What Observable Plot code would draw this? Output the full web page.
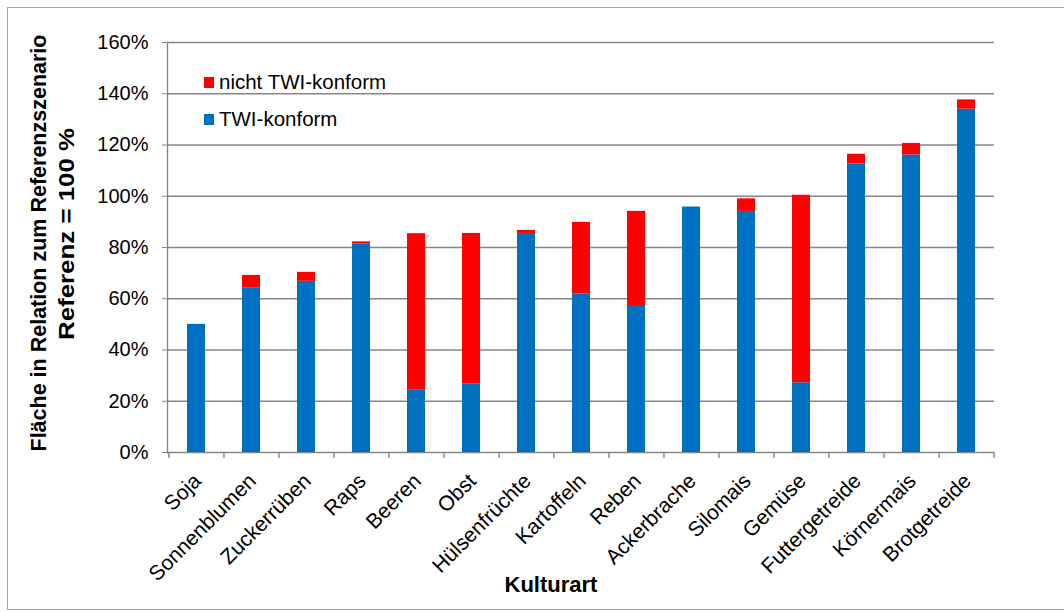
<!DOCTYPE html>
<html><head><meta charset="utf-8">
<script src="https://cdn.jsdelivr.net/npm/d3@7"></script>
<script src="https://cdn.jsdelivr.net/npm/@observablehq/plot@0.6"></script>
<style>
body{margin:0;background:#fff;font-family:"Liberation Sans",Arial,sans-serif;}
#wrap{position:relative;width:1064px;height:612px;overflow:hidden;}
#border{position:absolute;left:7px;top:7px;width:1100px;height:603px;border:1px solid #a6a6a6;box-sizing:border-box;}
#chart{position:absolute;left:0;top:0;}
</style></head><body>
<div id="wrap"><div id="border"></div><div id="chart"></div></div>
<script>
const categories = ["Soja","Sonnenblumen","Zuckerrüben","Raps","Beeren","Obst","Hülsenfrüchte","Kartoffeln","Reben","Ackerbrache","Silomais","Gemüse","Futtergetreide","Körnermais","Brotgetreide"];
const twiKonform   = [50.0, 64.3, 66.8, 81.3, 24.3, 26.7, 85.5, 61.8, 57.0, 95.8, 94.1, 27.2, 112.6, 116.1, 134.0];
const nichtKonform = [0.0, 4.8, 3.5, 0.9, 61.1, 58.8, 1.2, 28.0, 37.1, 0.0, 4.9, 73.2, 3.8, 4.5, 3.6];
const series = ["TWI-konform", "nicht TWI-konform"];
const seriesColors = ["#0070C0", "#FF0000"];
const yTicks = [0, 20, 40, 60, 80, 100, 120, 140, 160];
const yTitle = ["Fläche in Relation zum Referenzszenario", "Referenz = 100 %"];
const xTitle = "Kulturart";

const rows = [];
categories.forEach((c, i) => {
  rows.push({kultur: c, serie: series[0], wert: twiKonform[i]});
  rows.push({kultur: c, serie: series[1], wert: nichtKonform[i]});
});

const W = 1064, H = 612, mL = 167, mR = 70, mT = 42, mB = 160;
const step = (W - mL - mR) / categories.length;
const grid = "#868686";

const plot = Plot.plot({
  width: W, height: H,
  marginLeft: mL, marginRight: mR, marginTop: mT, marginBottom: mB,
  style: {fontFamily: "'Liberation Sans', Arial, sans-serif", fontSize: "20px", color: "#000", background: "transparent", overflow: "visible"},
  x: {domain: categories, paddingInner: 0.673, paddingOuter: 0.3365, label: null},
  y: {domain: [0, 160], label: null},
  color: {domain: series, range: seriesColors},
  marks: [
    Plot.gridY(yTicks, {stroke: grid, strokeOpacity: 1, strokeWidth: 1.4}),
    Plot.frame({anchor: "left", stroke: grid, strokeWidth: 1.4}),
    Plot.barY(rows, {x: "kultur", y: "wert", fill: "serie", order: series}),
    Plot.axisY(yTicks, {tickFormat: d => d + "%", tickSize: 5, tickPadding: 14, stroke: grid, fill: "#000", fontSize: 20, label: null}),
    Plot.axisX({tickSize: 0, tickRotate: -45, tickPadding: 25, dx: 1, fill: "#000", fontSize: 21, label: null}),
    Plot.ruleX(categories, {x: d => d, dx: -step / 2, y1: 0, y2: 0, insetBottom: -6, stroke: grid, strokeWidth: 1.4}),
    Plot.ruleX([categories[categories.length - 1]], {x: d => d, dx: step / 2, y1: 0, y2: 0, insetBottom: -6, stroke: grid, strokeWidth: 1.4})
  ]
});

const svg = d3.select(plot);
svg.append("text").attr("transform", "translate(46,243) rotate(-90)")
  .attr("text-anchor", "middle").attr("font-weight", "bold").attr("font-size", 21.5).attr("fill", "#000")
  .text(yTitle[0]);
svg.append("text").attr("transform", "translate(74,234) rotate(-90)")
  .attr("text-anchor", "middle").attr("font-weight", "bold").attr("font-size", 21.5).attr("fill", "#000")
  .attr("textLength", 212).attr("lengthAdjust", "spacingAndGlyphs")
  .text(yTitle[1]);
svg.append("text").attr("x", 551).attr("y", 592)
  .attr("text-anchor", "middle").attr("font-weight", "bold").attr("font-size", 22).attr("fill", "#000")
  .text(xTitle);

// legend (top entry = nicht TWI-konform)
const legendItems = [
  {name: series[1], color: seriesColors[1], y: 77, base: 89},
  {name: series[0], color: seriesColors[0], y: 114, base: 126}
];
legendItems.forEach(it => {
  svg.append("rect").attr("x", 204).attr("y", it.y).attr("width", 10).attr("height", 11).attr("fill", it.color);
  svg.append("text").attr("x", 219).attr("y", it.base).attr("text-anchor", "start")
    .attr("font-size", 20.5).attr("fill", "#000").text(it.name);
});

document.getElementById("chart").appendChild(plot);
</script>
</body></html>
